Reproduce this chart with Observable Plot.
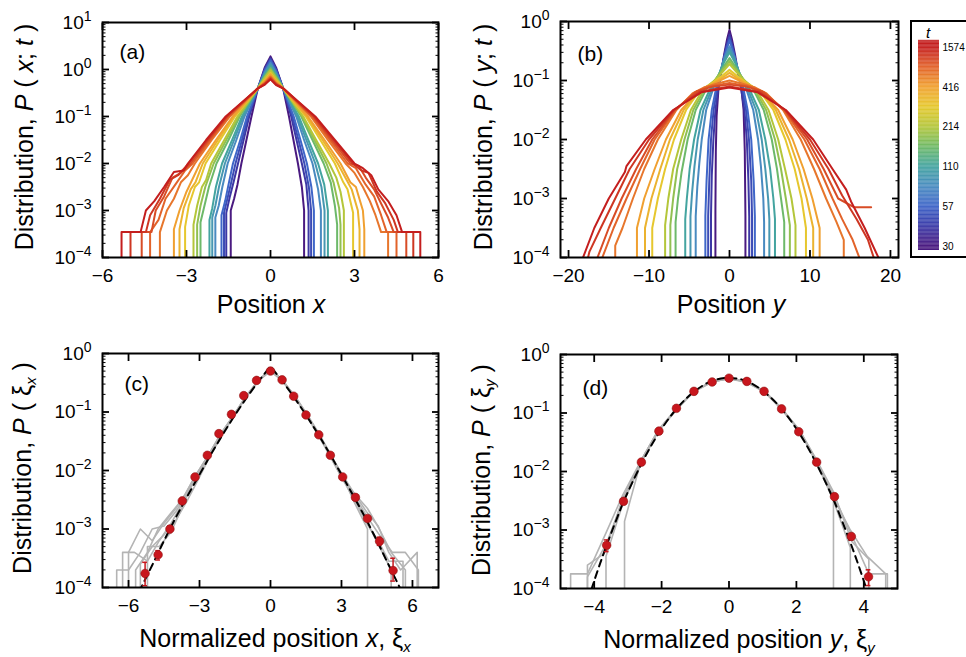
<!DOCTYPE html>
<html><head><meta charset="utf-8">
<script src="https://cdn.jsdelivr.net/npm/d3@7"></script>
<script src="https://cdn.jsdelivr.net/npm/@observablehq/plot@0.6"></script>
<style>
html,body{margin:0;padding:0;background:#fff;overflow:hidden}
#root{position:relative;width:966px;height:657px;overflow:hidden;font-family:"Liberation Sans",Arial,Helvetica,sans-serif;color:#000}
.t{position:absolute;font-size:25px;line-height:25px;white-space:nowrap;color:#000}
.xt{transform:translateX(-50%)}
.yt{transform:translate(-50%,-50%) rotate(-90deg)}
.t sub{font-size:15px;vertical-align:baseline;position:relative;top:5px}
.cbox{position:absolute;left:910px;top:20px;width:80px;height:238px;border:2px solid #000;box-sizing:border-box}
</style></head><body><div id="root"></div>
<script>
// ---------- colour bar ----------
const cbTicks = [30, 57, 110, 214, 416, 1574];
const palette = ["#4a1a80","#3a3aa8","#3f66c8","#4a8cc0","#44a4a0","#70ba66","#b4c63a","#e6c82e","#f0a030","#e2622a","#c41e1e"];

// ---------- tick values ----------
const xTicksA = [-6, -3, 0, 3, 6];
const xTicksB = [-20, -10, 0, 10, 20];
const xTicksC = [-6, -3, 0, 3, 6];
const xTicksD = [-4, -2, 0, 2, 4];
const minorMult = [2, 3, 4, 5, 6, 7, 8, 9];

// ---------- panel (a): P(x;t), pairs [x, log10 P]; -6 = empty bin ----------
const timesA = [30, 40, 47, 57, 78, 92, 110, 150, 180, 214, 300, 355, 416, 650, 800, 1000, 1250, 1574];
const curvesA = [
 [[-1.42,-6],[-1.42,-3.0],[-1.3,-2.75],[-1.18,-2.45],[-1.04,-2.0],[-0.86,-1.5],[-0.68,-1.0],[-0.45,-0.4],[-0.2,0.05],[0,0.28],[0.2,0.04],[0.45,-0.4],[0.66,-1.0],[0.82,-1.5],[0.98,-2.0],[1.12,-2.5],[1.2,-3.0],[1.2,-6]],
 [[-1.58,-6],[-1.58,-3.05],[-1.45,-2.7],[-1.32,-2.4],[-1.16,-2.0],[-0.96,-1.5],[-0.76,-1.0],[-0.45,-0.4],[-0.2,0.02],[0,0.24],[0.2,0.01],[0.45,-0.4],[0.74,-1.0],[0.93,-1.5],[1.12,-2.0],[1.28,-2.45],[1.36,-3.0],[1.36,-6]],
 [[-1.66,-6],[-1.66,-3.05],[-1.54,-2.75],[-1.41,-2.42],[-1.25,-2.0],[-1.02,-1.5],[-0.8,-1.0],[-0.45,-0.4],[-0.2,0.0],[0,0.215],[0.2,-0.01],[0.45,-0.4],[0.78,-1.0],[1.0,-1.5],[1.21,-2.0],[1.37,-2.5],[1.45,-3.0],[1.45,-6]],
 [[-1.75,-6],[-1.75,-3.1],[-1.62,-2.8],[-1.5,-2.45],[-1.34,-2.0],[-1.08,-1.5],[-0.84,-1.0],[-0.45,-0.4],[-0.2,-0.02],[0,0.19],[0.2,-0.03],[0.45,-0.4],[0.83,-1.0],[1.07,-1.5],[1.3,-2.0],[1.46,-2.5],[1.55,-3.0],[1.55,-6]],
 [[-1.97,-6],[-1.97,-3.15],[-1.85,-2.9],[-1.72,-2.5],[-1.53,-2.0],[-1.22,-1.5],[-0.93,-1.0],[-0.45,-0.4],[-0.2,-0.06],[0,0.14],[0.2,-0.07],[0.45,-0.4],[0.92,-1.0],[1.2,-1.5],[1.5,-2.0],[1.7,-2.55],[1.8,-3.0],[1.8,-6]],
 [[-2.08,-6],[-2.08,-3.15],[-1.97,-2.9],[-1.84,-2.5],[-1.63,-2.0],[-1.3,-1.5],[-0.98,-1.0],[-0.45,-0.4],[-0.2,-0.08],[0,0.11],[0.2,-0.09],[0.45,-0.4],[0.96,-1.0],[1.28,-1.5],[1.6,-2.0],[1.82,-2.5],[1.93,-3.0],[1.93,-6]],
 [[-2.18,-6],[-2.18,-3.2],[-2.08,-2.95],[-1.95,-2.5],[-1.73,-2.0],[-1.37,-1.5],[-1.02,-1.0],[-0.45,-0.4],[-0.2,-0.1],[0,0.08],[0.2,-0.11],[0.45,-0.4],[1.01,-1.0],[1.35,-1.5],[1.7,-2.0],[1.92,-2.45],[2.05,-3.0],[2.05,-6]],
 [[-2.5,-6],[-2.5,-3.25],[-2.38,-2.95],[-2.2,-2.5],[-1.93,-2.0],[-1.5,-1.5],[-1.1,-1.0],[-0.45,-0.4],[-0.2,-0.14],[0,0.03],[0.2,-0.15],[0.45,-0.4],[1.1,-1.0],[1.5,-1.5],[1.9,-2.0],[2.15,-2.4],[2.3,-2.9],[2.38,-3.3],[2.38,-6]],
 [[-2.62,-6],[-2.62,-3.3],[-2.5,-2.9],[-2.33,-2.5],[-2.03,-2.0],[-1.58,-1.5],[-1.14,-1.0],[-0.45,-0.4],[-0.2,-0.16],[0,0.0],[0.2,-0.17],[0.45,-0.4],[1.14,-1.0],[1.57,-1.5],[2.0,-2.0],[2.25,-2.4],[2.45,-2.95],[2.5,-3.3],[2.5,-6]],
 [[-2.75,-6],[-2.75,-3.3],[-2.62,-2.9],[-2.45,-2.5],[-2.3,-2.35],[-2.12,-2.0],[-1.65,-1.5],[-1.18,-1.0],[-0.45,-0.4],[-0.2,-0.18],[0,-0.02],[0.2,-0.19],[0.45,-0.4],[1.17,-1.0],[1.63,-1.5],[2.1,-2.0],[2.35,-2.3],[2.5,-2.6],[2.62,-3.0],[2.62,-6]],
 [[-3.05,-6],[-3.05,-3.35],[-2.92,-2.9],[-2.7,-2.5],[-2.55,-2.4],[-2.32,-2.0],[-1.8,-1.5],[-1.27,-1.0],[-0.45,-0.4],[-0.2,-0.22],[0,-0.07],[0.2,-0.23],[0.45,-0.4],[1.26,-1.0],[1.78,-1.5],[2.3,-2.0],[2.6,-2.4],[2.75,-2.55],[2.95,-3.05],[2.95,-6]],
 [[-3.25,-6],[-3.25,-3.4],[-3.1,-2.95],[-2.85,-2.55],[-2.68,-2.4],[-2.42,-2.0],[-1.88,-1.5],[-1.31,-1.0],[-0.45,-0.4],[-0.2,-0.24],[0,-0.09],[0.2,-0.25],[0.45,-0.4],[1.3,-1.0],[1.86,-1.5],[2.4,-2.0],[2.72,-2.35],[2.9,-2.55],[3.12,-3.0],[3.18,-3.4],[3.18,-6]],
 [[-3.45,-6],[-3.45,-3.4],[-3.25,-3.0],[-3.0,-2.6],[-2.8,-2.35],[-2.52,-2.0],[-1.95,-1.5],[-1.35,-1.0],[-0.45,-0.4],[-0.2,-0.25],[0,-0.11],[0.2,-0.26],[0.45,-0.4],[1.34,-1.0],[1.93,-1.5],[2.5,-2.0],[2.85,-2.4],[3.05,-2.5],[3.3,-3.0],[3.35,-3.4],[3.35,-6]],
 [[-3.95,-6],[-3.95,-3.46],[-3.7,-3.0],[-3.45,-2.75],[-3.2,-2.4],[-2.95,-2.25],[-2.7,-2.0],[-2.1,-1.5],[-1.45,-1.0],[-0.45,-0.4],[-0.2,-0.28],[0,-0.15],[0.2,-0.29],[0.45,-0.4],[1.44,-1.0],[2.05,-1.5],[2.68,-2.0],[3.0,-2.2],[3.3,-2.5],[3.55,-2.8],[3.75,-3.1],[3.95,-3.46],[4.2,-3.46],[4.2,-6]],
 [[-4.3,-6],[-4.3,-3.46],[-4.0,-3.2],[-3.75,-2.75],[-3.4,-2.45],[-3.05,-2.15],[-2.78,-2.0],[-2.15,-1.5],[-1.49,-1.0],[-0.45,-0.4],[-0.2,-0.29],[0,-0.165],[0.2,-0.3],[0.45,-0.4],[1.48,-1.0],[2.12,-1.5],[2.76,-2.0],[3.05,-2.1],[3.4,-2.45],[3.7,-2.7],[3.95,-3.1],[4.15,-3.46],[4.5,-3.46],[4.5,-6]],
 [[-4.6,-6],[-4.6,-3.46],[-4.25,-3.46],[-4.1,-3.0],[-3.8,-2.7],[-3.5,-2.3],[-3.2,-2.2],[-2.85,-2.0],[-2.2,-1.5],[-1.53,-1.0],[-0.45,-0.4],[-0.2,-0.3],[0,-0.18],[0.2,-0.31],[0.45,-0.4],[1.52,-1.0],[2.18,-1.5],[2.85,-2.0],[3.15,-2.05],[3.4,-2.3],[3.7,-2.55],[3.95,-2.85],[4.2,-3.15],[4.4,-3.46],[4.85,-3.46],[4.85,-6]],
 [[-5.0,-6],[-5.0,-3.46],[-4.45,-3.46],[-4.3,-3.1],[-3.95,-2.75],[-3.6,-2.35],[-3.3,-2.25],[-2.92,-2.0],[-2.25,-1.5],[-1.57,-1.0],[-0.45,-0.4],[-0.2,-0.31],[0,-0.2],[0.2,-0.32],[0.45,-0.4],[1.56,-1.0],[2.25,-1.5],[2.93,-2.0],[3.25,-2.15],[3.5,-2.2],[3.8,-2.6],[4.1,-2.85],[4.4,-3.2],[4.55,-3.46],[5.1,-3.46],[5.1,-6]],
 [[-5.32,-6],[-5.32,-3.46],[-4.64,-3.46],[-4.45,-3.0],[-4.15,-2.8],[-3.8,-2.5],[-3.45,-2.18],[-3.1,-2.15],[-2.95,-2.0],[-2.3,-1.5],[-1.6,-1.0],[-0.45,-0.4],[-0.2,-0.32],[0,-0.21],[0.2,-0.33],[0.45,-0.4],[1.6,-1.0],[2.3,-1.5],[3.0,-2.0],[3.3,-2.1],[3.6,-2.25],[3.85,-2.55],[4.2,-2.8],[4.5,-3.1],[4.7,-3.46],[5.35,-3.46],[5.35,-6]]
];

// ---------- panel (b): P(y;t) ----------
const timesB = [30, 40, 47, 57, 78, 92, 110, 150, 180, 214, 300, 355, 416, 650, 800, 1000, 1250, 1574];
const curvesB = [
 [[-1.75,-6],[-1.75,-3.2],[-1.7,-2.2],[-1.6,-1.6],[-1.35,-1.1],[-1.0,-0.83],[-0.65,-0.55],[-0.3,-0.3],[0,-0.14],[0.3,-0.3],[0.7,-0.57],[1.05,-0.85],[1.45,-1.1],[1.75,-1.5],[1.9,-2.2],[1.98,-3.3],[1.98,-6]],
 [[-2.3,-6],[-2.3,-3.3],[-2.2,-2.6],[-2.0,-2.0],[-1.75,-1.5],[-1.35,-1.1],[-0.85,-0.72],[-0.4,-0.42],[0,-0.22],[0.4,-0.43],[0.85,-0.73],[1.4,-1.1],[1.85,-1.5],[2.15,-2.0],[2.35,-2.7],[2.45,-3.3],[2.45,-6]],
 [[-2.65,-6],[-2.65,-3.3],[-2.5,-2.65],[-2.3,-2.0],[-1.98,-1.5],[-1.5,-1.11],[-0.92,-0.76],[-0.45,-0.48],[0,-0.27],[0.45,-0.48],[0.92,-0.77],[1.55,-1.11],[2.05,-1.5],[2.42,-2.0],[2.7,-2.7],[2.8,-3.3],[2.8,-6]],
 [[-3.0,-6],[-3.0,-3.3],[-2.85,-2.7],[-2.6,-2.0],[-2.2,-1.5],[-1.65,-1.12],[-1.0,-0.8],[-0.5,-0.53],[0,-0.32],[0.5,-0.53],[1.0,-0.8],[1.7,-1.12],[2.25,-1.5],[2.7,-2.0],[3.0,-2.7],[3.15,-3.3],[3.15,-6]],
 [[-4.2,-6],[-4.2,-3.3],[-4.0,-2.8],[-3.75,-2.4],[-3.45,-2.0],[-2.9,-1.5],[-2.0,-1.13],[-1.2,-0.87],[-0.6,-0.6],[0,-0.42],[0.6,-0.6],[1.2,-0.87],[2.05,-1.13],[2.95,-1.5],[3.55,-2.0],[3.9,-2.45],[4.2,-3.0],[4.3,-3.4],[4.3,-6]],
 [[-4.85,-6],[-4.85,-3.3],[-4.65,-2.9],[-4.35,-2.45],[-3.95,-2.0],[-3.25,-1.5],[-2.2,-1.14],[-1.3,-0.9],[-0.65,-0.65],[0,-0.47],[0.65,-0.65],[1.3,-0.9],[2.25,-1.14],[3.3,-1.5],[4.0,-2.0],[4.45,-2.5],[4.8,-3.0],[4.95,-3.35],[4.95,-6]],
 [[-5.5,-6],[-5.5,-3.35],[-5.3,-3.0],[-4.95,-2.5],[-4.4,-2.0],[-3.6,-1.5],[-2.4,-1.14],[-1.4,-0.92],[-0.7,-0.7],[0,-0.52],[0.7,-0.7],[1.4,-0.92],[2.45,-1.14],[3.65,-1.5],[4.45,-2.0],[5.05,-2.5],[5.45,-3.0],[5.65,-3.35],[5.65,-6]],
 [[-6.7,-6],[-6.7,-3.4],[-6.4,-3.0],[-5.95,-2.55],[-5.2,-2.0],[-4.2,-1.5],[-2.9,-1.15],[-1.7,-0.98],[-0.8,-0.78],[0,-0.62],[0.8,-0.78],[1.7,-0.98],[2.95,-1.15],[4.25,-1.5],[5.25,-2.0],[5.9,-2.5],[6.35,-2.95],[6.8,-3.4],[6.8,-6]],
 [[-7.35,-6],[-7.35,-3.45],[-7.0,-3.0],[-6.5,-2.5],[-5.6,-2.0],[-4.5,-1.5],[-3.1,-1.15],[-1.85,-1.0],[-0.85,-0.82],[0,-0.67],[0.85,-0.82],[1.85,-1.0],[3.1,-1.15],[4.55,-1.5],[5.65,-2.0],[6.4,-2.5],[7.0,-3.0],[7.5,-3.45],[7.5,-6]],
 [[-8.0,-6],[-8.0,-3.45],[-7.6,-3.0],[-7.0,-2.5],[-6.0,-2.0],[-4.8,-1.5],[-3.3,-1.15],[-2.0,-1.02],[-0.9,-0.86],[0,-0.72],[0.9,-0.86],[2.0,-1.02],[3.3,-1.15],[4.85,-1.5],[6.05,-2.0],[6.9,-2.5],[7.7,-3.0],[8.2,-3.45],[8.2,-6]],
 [[-9.6,-6],[-9.6,-3.5],[-8.9,-3.0],[-8.0,-2.5],[-6.9,-2.0],[-5.4,-1.5],[-3.7,-1.17],[-2.3,-1.06],[-1.0,-0.93],[0,-0.82],[1.0,-0.93],[2.3,-1.06],[3.7,-1.17],[5.45,-1.5],[6.95,-2.0],[8.1,-2.5],[8.95,-3.0],[9.5,-3.5],[9.5,-6]],
 [[-10.5,-6],[-10.5,-3.5],[-9.7,-3.0],[-8.6,-2.5],[-7.4,-2.0],[-5.7,-1.5],[-3.85,-1.18],[-2.45,-1.08],[-1.1,-0.97],[0,-0.87],[1.1,-0.97],[2.45,-1.08],[3.85,-1.18],[5.75,-1.5],[7.4,-2.0],[8.65,-2.5],[9.6,-3.0],[10.4,-3.5],[10.4,-6]],
 [[-11.5,-6],[-11.5,-3.5],[-10.6,-3.0],[-9.3,-2.5],[-7.9,-2.0],[-6.0,-1.5],[-4.0,-1.2],[-2.6,-1.1],[-1.2,-1.0],[0,-0.92],[1.2,-1.0],[2.6,-1.1],[4.0,-1.2],[6.05,-1.5],[7.85,-2.0],[9.2,-2.5],[10.3,-3.0],[11.2,-3.5],[11.2,-6]],
 [[-14.2,-6],[-14.2,-3.8],[-13.3,-3.5],[-12.0,-3.0],[-10.6,-2.5],[-8.9,-2.0],[-6.6,-1.5],[-4.6,-1.22],[-3.2,-1.12],[-1.5,-1.05],[0,-1.0],[1.5,-1.05],[3.2,-1.12],[4.6,-1.22],[6.65,-1.5],[8.85,-2.0],[10.5,-2.5],[12.0,-3.0],[13.3,-3.4],[14.2,-3.7],[14.2,-6]],
 [[-15.8,-6],[-15.8,-4.0],[-14.4,-3.5],[-12.8,-3.0],[-11.1,-2.5],[-9.3,-2.0],[-6.7,-1.5],[-4.3,-1.2],[-2.5,-1.1],[0,-1.04],[2.5,-1.1],[4.3,-1.2],[6.75,-1.5],[9.3,-2.0],[11.2,-2.5],[12.8,-3.0],[14.0,-3.35],[15.3,-3.7],[16.4,-4.1]],
 [[-17.6,-4.5],[-16.4,-4.0],[-15.0,-3.5],[-13.4,-3.0],[-11.6,-2.5],[-9.6,-2.0],[-6.8,-1.5],[-4.0,-1.18],[-2.0,-1.1],[0,-1.07],[2.0,-1.1],[4.0,-1.18],[6.85,-1.5],[9.65,-2.0],[11.7,-2.5],[13.5,-3.0],[15.5,-3.15],[17.6,-3.15]],
 [[-18.3,-4.4],[-17.4,-3.9],[-16.0,-3.5],[-14.2,-3.0],[-12.4,-2.5],[-10.0,-2.0],[-6.9,-1.5],[-3.7,-1.19],[0,-1.1],[3.7,-1.19],[6.9,-1.5],[10.0,-2.0],[12.3,-2.5],[14.0,-2.95],[15.8,-3.35],[17.2,-3.7],[18.4,-4.2]],
 [[-18.8,-4.3],[-18.2,-4.0],[-16.8,-3.5],[-15.0,-3.0],[-13.0,-2.55],[-12.8,-2.45],[-10.4,-2.0],[-7.0,-1.5],[-3.5,-1.2],[0,-1.12],[3.5,-1.2],[7.0,-1.5],[10.4,-2.0],[12.8,-2.5],[14.5,-2.85],[15.1,-3.05],[16.8,-3.5],[18.5,-4.0],[19.0,-4.3]]
];

// ---------- panel (c): P(xi_x) ----------
const grayC = [
 [[-6.25,-6],[-6.25,-3.4],[-5.75,-3.4],[-5.2,-3.55],[-4.7,-3.2],[-4.2,-2.9],[-3.7,-2.55],[-3.2,-2.15],[-2.6,-1.76],[-2.1,-1.41],[-1.55,-1.07],[-1.05,-0.76],[-0.5,-0.46],[0,-0.26],[0.5,-0.46],[1.05,-0.76],[1.55,-1.07],[2.05,-1.39],[2.55,-1.74],[3.1,-2.12],[3.6,-2.47],[4.1,-2.8],[4.6,-3.1],[5.15,-3.4],[5.7,-3.4],[6.25,-3.7],[6.25,-6]],
 [[-5.7,-6],[-5.7,-3.7],[-5.2,-3.4],[-4.75,-3.0],[-4.25,-2.75],[-3.7,-2.48],[-3.2,-2.1],[-2.6,-1.73],[-2.1,-1.38],[-1.55,-1.05],[-1.05,-0.74],[-0.5,-0.45],[0,-0.28],[0.5,-0.45],[1.05,-0.75],[1.55,-1.05],[2.05,-1.38],[2.55,-1.76],[3.1,-2.14],[3.6,-2.5],[4.1,-2.9],[4.6,-3.3],[5.1,-3.7],[5.1,-6]],
 [[-6.5,-6],[-6.5,-3.7],[-6.0,-3.7],[-5.5,-3.4],[-5.0,-3.0],[-4.5,-2.95],[-4.0,-2.7],[-3.6,-2.45],[-3.1,-2.1],[-2.6,-1.75],[-2.1,-1.39],[-1.55,-1.06],[-1.05,-0.75],[-0.5,-0.46],[0,-0.3],[0.5,-0.46],[1.05,-0.74],[1.55,-1.06],[2.05,-1.4],[2.55,-1.75],[3.05,-2.08],[3.55,-2.4],[4.05,-2.7],[4.55,-2.95],[5.0,-3.4],[5.5,-3.7],[6.2,-3.4],[6.2,-6]],
 [[-5.2,-6],[-5.2,-3.3],[-4.7,-3.3],[-4.2,-3.05],[-3.7,-2.6],[-3.2,-2.12],[-2.6,-1.72],[-2.1,-1.37],[-1.55,-1.05],[-1.05,-0.74],[-0.5,-0.46],[0,-0.29],[0.5,-0.46],[1.05,-0.74],[1.55,-1.04],[2.05,-1.37],[2.55,-1.73],[3.05,-2.1],[3.55,-2.55],[4.1,-3.0],[4.1,-6]],
 [[-6.0,-6],[-6.0,-3.4],[-5.5,-3.0],[-5.0,-3.2],[-4.5,-2.9],[-4.0,-2.65],[-3.6,-2.4],[-3.1,-2.05],[-2.6,-1.72],[-2.1,-1.38],[-1.55,-1.05],[-1.05,-0.75],[-0.5,-0.46],[0,-0.27],[0.5,-0.45],[1.05,-0.75],[1.55,-1.06],[2.05,-1.4],[2.55,-1.77],[3.05,-2.15],[3.6,-2.42],[4.1,-2.65],[4.6,-3.0],[5.1,-3.4],[5.7,-3.7],[5.7,-6]],
 [[-5.5,-6],[-5.5,-3.6],[-5.0,-3.3],[-4.5,-3.1],[-4.0,-2.85],[-3.5,-2.5],[-3.05,-2.15],[-2.55,-1.75],[-2.05,-1.4],[-1.55,-1.06],[-1.05,-0.75],[-0.5,-0.46],[0,-0.3],[0.5,-0.47],[1.05,-0.76],[1.55,-1.08],[2.05,-1.42],[2.55,-1.78],[3.05,-2.15],[3.55,-2.5],[4.05,-2.9],[4.55,-3.2],[5.0,-3.55],[5.6,-3.55],[5.6,-6]]
];
const dashXC   = [-5.8,-5.5,-5,-4.5,-4,-3.5,-3,-2.5,-2,-1.5,-1,-0.5,0,0.5,1,1.5,2,2.5,3,3.5,4,4.5,5,5.5,5.8];
const dashLogC = [-4.25,-4.03,-3.62,-3.2,-2.8,-2.43,-2.07,-1.71,-1.37,-1.05,-0.75,-0.47,-0.22,-0.47,-0.75,-1.05,-1.37,-1.71,-2.07,-2.43,-2.8,-3.2,-3.62,-4.03,-4.25];
const dotXC    = [-5.3,-4.75,-4.25,-3.73,-3.19,-2.67,-2.18,-1.65,-1.13,-0.59,0,0.49,0.98,1.5,2.04,2.53,3.05,3.59,4.1,4.61,5.18];
const dotLogC  = [-3.76,-3.44,-3.0,-2.52,-2.11,-1.74,-1.37,-1.04,-0.72,-0.46,-0.30,-0.45,-0.73,-1.05,-1.39,-1.74,-2.11,-2.46,-2.82,-3.21,-3.71];
const errXC    = [-5.3,-4.75,-4.25,4.61,5.18];
const errLoC   = [-3.97,-3.53,-3.06,-3.28,-3.89];
const errHiC   = [-3.57,-3.37,-2.95,-3.14,-3.5];

// ---------- panel (d): P(xi_y) ----------
const grayD = [
 [[-4.2,-6],[-4.2,-3.6],[-3.7,-3.4],[-3.15,-2.45],[-2.6,-1.82],[-2.1,-1.3],[-1.55,-0.92],[-1.05,-0.63],[-0.5,-0.47],[0,-0.41],[0.5,-0.47],[1.05,-0.63],[1.55,-0.93],[2.1,-1.31],[2.6,-1.83],[3.1,-2.4],[3.65,-3.1],[4.15,-3.75],[4.7,-3.75],[4.7,-6]],
 [[-4.7,-6],[-4.7,-3.75],[-4.2,-3.75],[-3.65,-3.05],[-3.15,-2.4],[-2.6,-1.8],[-2.1,-1.3],[-1.55,-0.93],[-1.05,-0.63],[-0.5,-0.46],[0,-0.42],[0.5,-0.47],[1.05,-0.64],[1.55,-0.92],[2.1,-1.32],[2.6,-1.85],[3.1,-2.5],[3.6,-3.3],[3.6,-6]],
 [[-3.65,-6],[-3.65,-3.45],[-3.15,-2.55],[-2.6,-1.85],[-2.1,-1.32],[-1.55,-0.94],[-1.05,-0.64],[-0.5,-0.47],[0,-0.41],[0.5,-0.46],[1.05,-0.63],[1.55,-0.92],[2.1,-1.3],[2.6,-1.86],[3.1,-2.45],[3.6,-3.0],[4.1,-3.45],[4.65,-3.75],[4.65,-6]],
 [[-3.1,-6],[-3.1,-2.85],[-2.6,-1.8],[-2.1,-1.3],[-1.55,-0.93],[-1.05,-0.63],[-0.5,-0.46],[0,-0.41],[0.5,-0.46],[1.05,-0.63],[1.55,-0.93],[2.1,-1.3],[2.6,-1.82],[3.1,-2.42],[3.1,-6]],
 [[-4.2,-6],[-4.2,-3.8],[-3.65,-3.25],[-3.15,-2.5],[-2.6,-1.81],[-2.1,-1.29],[-1.55,-0.92],[-1.05,-0.62],[-0.5,-0.46],[0,-0.4],[0.5,-0.46],[1.05,-0.62],[1.55,-0.91],[2.1,-1.3],[2.6,-1.8],[3.1,-2.35],[3.65,-3.2],[4.15,-3.5],[4.15,-6]]
];
const dashXD   = [-4.5,-4.25,-4,-3.75,-3.5,-3.25,-3,-2.5,-2,-1.5,-1,-0.5,0,0.5,1,1.5,2,2.5,3,3.25,3.5,3.75,4,4.25,4.5];
const dashLogD = [-4.80,-4.32,-3.87,-3.45,-3.06,-2.69,-2.35,-1.76,-1.27,-0.89,-0.62,-0.45,-0.40,-0.45,-0.62,-0.89,-1.27,-1.76,-2.35,-2.69,-3.06,-3.45,-3.87,-4.32,-4.80];
const dotXD    = [-3.63,-3.13,-2.6,-2.08,-1.56,-1.04,-0.5,0,0.53,1.04,1.56,2.07,2.6,3.13,3.63,4.14];
const dotLogD  = [-3.26,-2.51,-1.84,-1.31,-0.92,-0.63,-0.47,-0.405,-0.46,-0.63,-0.93,-1.32,-1.84,-2.43,-3.11,-3.8];
const errXD    = [-3.63,3.63,4.14];
const errLoD   = [-3.37,-3.17,-3.95];
const errHiD   = [-3.17,-3.06,-3.68];

// ---------- helpers ----------
const FONT = '"Liberation Sans", Arial, Helvetica, sans-serif';
const RED = "#c8161d";
const tIndex = d3.scaleLog().domain(cbTicks).range(cbTicks.map((_, i) => i));
const colorOpts = {type: "linear", domain: [0, cbTicks.length - 1], interpolate: d3.piecewise(d3.interpolateRgb, palette), clamp: true};
const rowsOf = (curves, times) => curves.flatMap((c, k) => c.map(([x, v]) => ({k, ci: times ? tIndex(times[k]) : 0, x, p: 10 ** v})));
const ptsOf = (xs, logs) => xs.map((x, i) => ({x, p: 10 ** logs[i]}));
const errOf = (xs, lo, hi) => xs.map((x, i) => ({x, lo: 10 ** lo[i], hi: 10 ** hi[i]}));

function panel(o) {
  const yMajor = d3.range(o.yExp[0], o.yExp[1] + 1).map(e => 10 ** e);
  const yMinor = d3.range(o.yExp[0], o.yExp[1]).flatMap(e => minorMult.map(m => m * 10 ** e));
  const svg = Plot.plot({
    width: o.width, height: o.height,
    marginLeft: o.ml, marginRight: o.mr, marginTop: o.mt, marginBottom: o.mb,
    x: {domain: o.xDomain},
    y: {type: "log", domain: [10 ** o.yExp[0], 10 ** o.yExp[1]]},
    color: colorOpts,
    style: {fontFamily: FONT, background: "transparent", overflow: "visible", color: "black"},
    marks: [
      ...o.marks,
      Plot.frame({stroke: "black", strokeWidth: 2}),
      Plot.axisX(o.xTicks, {anchor: "bottom", tickSize: -7, fill: "none", label: null, strokeWidth: 1.8}),
      Plot.axisX(o.xTicks, {anchor: "top", tickSize: -7, fill: "none", label: null, strokeWidth: 1.8}),
      Plot.axisX(o.xTicks, {anchor: "bottom", tickSize: 0, tickPadding: 11, label: null, fontSize: 19}),
      Plot.axisY(yMinor, {anchor: "left", tickSize: -3.5, fill: "none", label: null, strokeWidth: 1}),
      Plot.axisY(yMinor, {anchor: "right", tickSize: -3.5, fill: "none", label: null, strokeWidth: 1}),
      Plot.axisY(yMajor, {anchor: "left", tickSize: -7, fill: "none", label: null, strokeWidth: 1.8}),
      Plot.axisY(yMajor, {anchor: "right", tickSize: -7, fill: "none", label: null, strokeWidth: 1.8}),
      Plot.axisY(yMajor, {anchor: "left", tickSize: 0, tickPadding: 11, label: null, fontSize: 19,
        tickFormat: d => "10^" + Math.round(Math.log10(d))}),
      Plot.text([o.tag], {frameAnchor: "top-left", dx: o.tagDx, dy: o.tagDy, fontSize: 21, textAnchor: "start", lineAnchor: "top"})
    ]
  });
  svg.querySelectorAll('g[aria-label="y-axis tick label"] text').forEach(t => {
    const m = (t.textContent || "").match(/^10\^(.*)$/);
    if (!m) return;
    t.textContent = "10";
    const ts = document.createElementNS("http://www.w3.org/2000/svg", "tspan");
    ts.setAttribute("dy", "-0.55em");
    ts.setAttribute("font-size", "14px");
    ts.textContent = m[1].replace("-", "\u2212");
    t.appendChild(ts);
  });
  svg.style.position = "absolute";
  svg.style.left = o.left + "px";
  svg.style.top = o.top + "px";
  return svg;
}

const root = document.getElementById("root");

// (a)
root.appendChild(panel({
  left: 0, top: 0, width: 480, height: 300, ml: 102, mr: 42, mt: 22, mb: 43,
  xDomain: [-6, 6], yExp: [-4, 1], xTicks: xTicksA, tag: "(a)", tagDx: 17, tagDy: 22,
  marks: [Plot.line(rowsOf(curvesA, timesA), {x: "x", y: "p", z: "k", stroke: "ci", strokeWidth: 2, clip: true, strokeLinejoin: "round"})]
}));
// (b)
root.appendChild(panel({
  left: 480, top: 0, width: 420, height: 300, ml: 80, mr: 2, mt: 21, mb: 43,
  xDomain: [-21, 21], yExp: [-4, 0], xTicks: xTicksB, tag: "(b)", tagDx: 17, tagDy: 25,
  marks: [Plot.line(rowsOf(curvesB, timesB), {x: "x", y: "p", z: "k", stroke: "ci", strokeWidth: 2, clip: true, strokeLinejoin: "round"})]
}));
// (c)
const errRowsC = errOf(errXC, errLoC, errHiC);
root.appendChild(panel({
  left: 0, top: 330, width: 480, height: 327, ml: 102, mr: 42, mt: 23, mb: 70,
  xDomain: [-7.1, 7.1], yExp: [-4, 0], xTicks: xTicksC, tag: "(c)", tagDx: 22, tagDy: 23,
  marks: [
    Plot.line(rowsOf(grayC), {x: "x", y: "p", z: "k", stroke: "#b4b4b4", strokeWidth: 1.6, clip: true}),
    Plot.line(ptsOf(dashXC, dashLogC), {x: "x", y: "p", stroke: "black", strokeWidth: 2, strokeDasharray: "7,5", clip: true}),
    Plot.ruleX(errRowsC, {x: "x", y1: "lo", y2: "hi", stroke: RED, strokeWidth: 1.5, clip: true}),
    Plot.ruleY(errRowsC, {y: "lo", x1: d => d.x - 0.1, x2: d => d.x + 0.1, stroke: RED, strokeWidth: 1.5, clip: true}),
    Plot.ruleY(errRowsC, {y: "hi", x1: d => d.x - 0.1, x2: d => d.x + 0.1, stroke: RED, strokeWidth: 1.5, clip: true}),
    Plot.dot(ptsOf(dotXC, dotLogC), {x: "x", y: "p", r: 4.3, fill: RED, stroke: "#901010", strokeWidth: 0.6})
  ]
}));
// (d)
const errRowsD = errOf(errXD, errLoD, errHiD);
root.appendChild(panel({
  left: 480, top: 330, width: 420, height: 327, ml: 80, mr: 3, mt: 24, mb: 69,
  xDomain: [-5, 5], yExp: [-4, 0], xTicks: xTicksD, tag: "(d)", tagDx: 22, tagDy: 26,
  marks: [
    Plot.line(rowsOf(grayD), {x: "x", y: "p", z: "k", stroke: "#b4b4b4", strokeWidth: 1.6, clip: true}),
    Plot.line(ptsOf(dashXD, dashLogD), {x: "x", y: "p", stroke: "black", strokeWidth: 2, strokeDasharray: "7,5", curve: "natural", clip: true}),
    Plot.ruleX(errRowsD, {x: "x", y1: "lo", y2: "hi", stroke: RED, strokeWidth: 1.5, clip: true}),
    Plot.ruleY(errRowsD, {y: "lo", x1: d => d.x - 0.07, x2: d => d.x + 0.07, stroke: RED, strokeWidth: 1.5, clip: true}),
    Plot.ruleY(errRowsD, {y: "hi", x1: d => d.x - 0.07, x2: d => d.x + 0.07, stroke: RED, strokeWidth: 1.5, clip: true}),
    Plot.dot(ptsOf(dotXD, dotLogD), {x: "x", y: "p", r: 4.3, fill: RED, stroke: "#901010", strokeWidth: 0.6})
  ]
}));

// colour bar
const box = document.createElement("div");
box.className = "cbox";
root.appendChild(box);
const cbSteps = d3.range(-0.1, 5.18, 0.02);
const cb = Plot.plot({
  width: 66, height: 300, marginLeft: 18, marginRight: 27, marginTop: 40, marginBottom: 50,
  x: {domain: [0, 1], axis: null},
  y: {domain: [-0.1, 5.18], axis: null},
  color: colorOpts,
  style: {fontFamily: FONT, background: "transparent", overflow: "visible", color: "black"},
  marks: [
    Plot.rect(cbSteps, {x1: 0, x2: 1, y1: d => d, y2: d => d + 0.025, fill: d => d}),
    Plot.axisY(cbTicks.map((_, i) => i), {anchor: "right", tickSize: 0, tickPadding: 3, label: null, fontSize: 10, tickFormat: i => String(cbTicks[i])}),
    Plot.text(["t"], {frameAnchor: "top", dy: -3, dx: -1, lineAnchor: "bottom", fontStyle: "italic", fontSize: 15})
  ]
});
cb.style.position = "absolute"; cb.style.left = "900px"; cb.style.top = "0px";
root.appendChild(cb);

// axis titles
const titles = [
  ["xt", 271, 292, 'Position <i>x</i>'],
  ["xt", 731, 292, 'Position <i>y</i>'],
  ["xt", 275, 626, 'Normalized position <i>x</i>, ξ<sub><i>x</i></sub>'],
  ["xt", 739, 627, 'Normalized position <i>y</i>, ξ<sub><i>y</i></sub>'],
  ["yt", 24, 137, 'Distribution, <i>P</i> ( <i>x</i>; <i>t</i> )'],
  ["yt", 483, 137, 'Distribution, <i>P</i> ( <i>y</i>; <i>t</i> )'],
  ["yt", 24, 468, 'Distribution, <i>P</i> ( ξ<sub><i>x</i></sub> )'],
  ["yt", 483, 470, 'Distribution, <i>P</i> ( ξ<sub><i>y</i></sub> )']
];
for (const [cls, x, y, html] of titles) {
  const d = document.createElement("div");
  d.className = "t " + cls;
  d.style.left = x + "px"; d.style.top = y + "px";
  d.innerHTML = html;
  root.appendChild(d);
}
</script></body></html>
